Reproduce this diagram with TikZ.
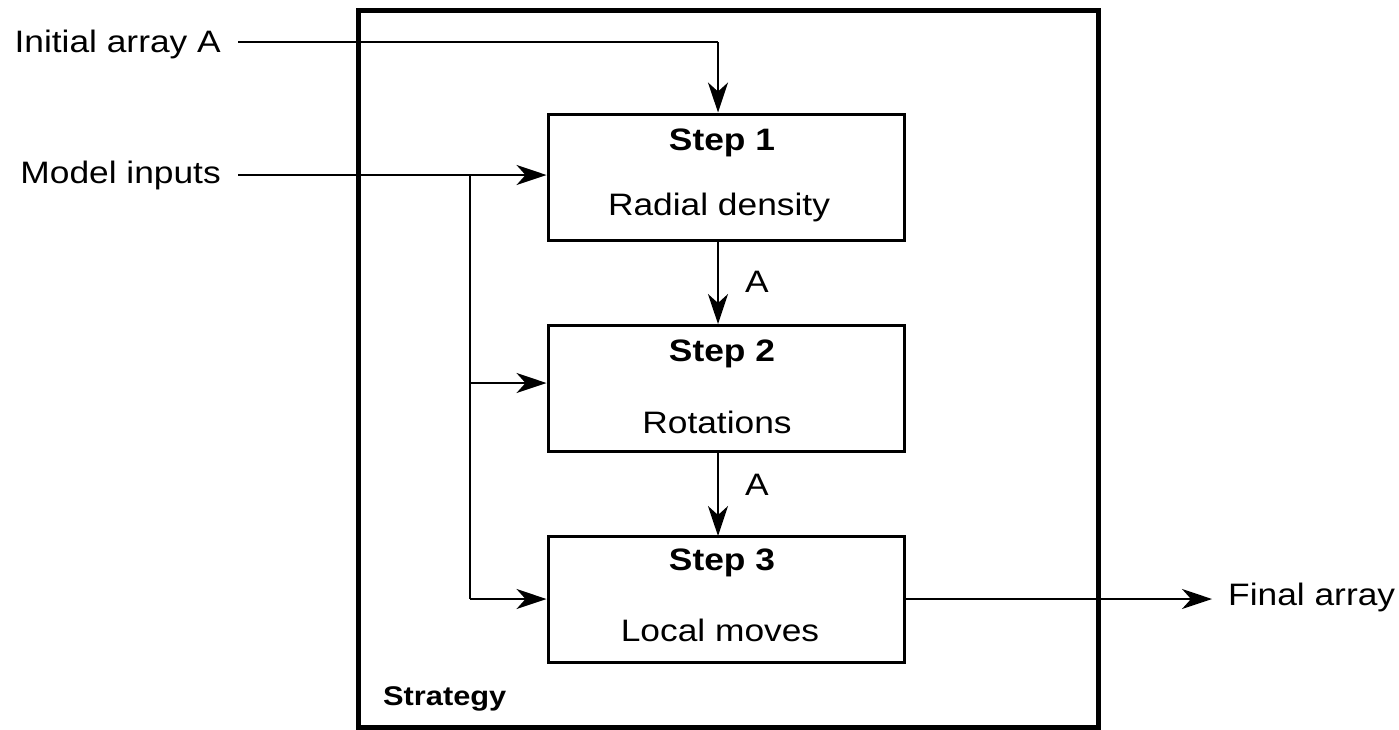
\documentclass[tikz,border=0pt]{standalone}
\usepackage{fontspec}
\setmainfont{Liberation Sans}
\usetikzlibrary{arrows.meta}
\newcommand{\hstretch}[1]{\scalebox{1.14}[1]{#1}}
\begin{document}
\begin{tikzpicture}[x=1pt,y=-1pt,
  txt/.style={font=\fontsize{31}{36}\selectfont, inner sep=0pt},
  btxt/.style={font=\fontsize{31}{36}\selectfont\bfseries, inner sep=0pt},
  stepbox/.style={draw, line width=3pt, minimum width=356pt, minimum height=126pt, inner sep=0pt},
  conn/.style={line width=1.5pt, -{Stealth[length=30pt,width=20pt,inset=9pt]}},
  plain/.style={line width=1.5pt}
]
\useasboundingbox (0,0) rectangle (1399,729);
% outer frame
\node[draw, line width=5pt, minimum width=740pt, minimum height=717pt, inner sep=0pt] (frame) at (728,368.5) {};
\node[font=\fontsize{27}{30}\selectfont\bfseries, inner sep=0pt, anchor=west] (strat) at (383,699) {\hstretch{Strategy}};
% boxes
\node[stepbox] (s1) at (726,177) {};
\node[stepbox] (s2) at (726,388) {};
\node[stepbox] (s3) at (726,599) {};
\node[btxt] (s1a) at (722,143) {\hstretch{Step 1}};
\node[txt] (s1b) at (719,207) {\hstretch{Radial density}};
\node[btxt] (s2a) at (722,354) {\hstretch{Step 2}};
\node[txt] (s2b) at (717,422) {\hstretch{Rotations}};
\node[btxt] (s3a) at (722,563) {\hstretch{Step 3}};
\node[txt] (s3b) at (720,630) {\hstretch{Local moves}};
% inputs
\node[txt, anchor=east] (ia) at (221,44) {\hstretch{Initial array A}};
\node[txt, anchor=east] (mi) at (221,175) {\hstretch{Model inputs}};
\node[txt, anchor=west] (fa) at (1228,597) {\hstretch{Final array}};
\coordinate (ia0) at (238,42);
\coordinate (c1) at (718,42);
\coordinate (mi0) at (238,175);
\coordinate (j1) at (470,175);
\coordinate (j2) at (470,383);
\coordinate (j3) at (470,599);
\draw[plain] (ia0) -- (c1);
\draw[conn] (c1) -- (c1 |- s1.north);
\draw[conn] (mi0) -- (mi0 -| s1.west);
\draw[plain] (j1) -- (j3);
\draw[conn] (j2) -- (j2 -| s2.west);
\draw[conn] (j3) -- (j3 -| s3.west);
\coordinate (f0) at (1212,599);
\draw[conn] (s3.east |- f0) -- (f0);
\draw[conn] (718,240) coordinate (a1) -- (718,324);
\draw[conn] (718,452) coordinate (a2) -- (718,536);
\node[txt] (la1) at (757,282) {\hstretch{A}};
\node[txt] (la2) at (757,485) {\hstretch{A}};
\end{tikzpicture}
\end{document}
